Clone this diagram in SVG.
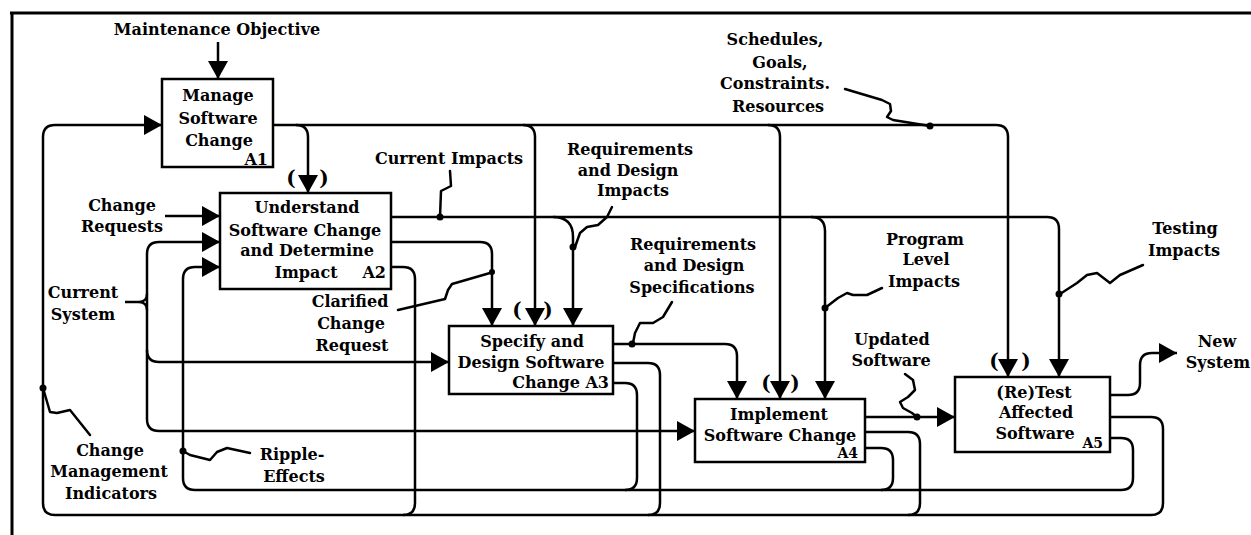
<svg xmlns="http://www.w3.org/2000/svg" width="1251" height="535" viewBox="0 0 1251 535">
<defs>
<marker id="ah" markerUnits="userSpaceOnUse" markerWidth="20" markerHeight="20" refX="18" refY="10" orient="auto">
<path d="M0,0 L18,10 L0,20 Z" fill="#000"/>
</marker>
<style>
text{font-family:"DejaVu Serif","Liberation Serif",serif;font-weight:bold;font-size:16px;fill:#000;text-anchor:middle}
.box{fill:#fff;stroke:#000;stroke-width:2.5}
.ln{fill:none;stroke:#000;stroke-width:2.5;stroke-linejoin:round}
.ar{fill:none;stroke:#000;stroke-width:2.5;marker-end:url(#ah)}
.sq{fill:none;stroke:#000;stroke-width:2.5;stroke-linejoin:round;stroke-linecap:round}
.dot{fill:#000}
.par{font-size:20px}
.end{text-anchor:end}
.sm{font-size:14px}
</style>
</defs>
<rect width="1251" height="535" fill="#fff"/>
<g id="frame" class="ln" style="stroke-width:3">
<path d="M10,13 H1251 M12,13 V535"/>
</g>
<g id="connectors">
<path class="ar" d="M218,42 V79"/>
<path class="ar" d="M273,125 H996 Q1008,125 1008,137 V377"/>
<path class="ar" d="M296,125 Q308,125 308,137 V193"/>
<path class="ar" d="M523,125 Q535,125 535,137 V326"/>
<path class="ar" d="M768,125 Q780,125 780,137 V399"/>
<path class="ar" d="M391,267 H403 Q415,267 415,279 V503 Q415,515 403,515 H55 Q43,515 43,503 V137 Q43,125 55,125 H162"/>
<path class="ln" d="M1110,417 H1151 Q1163,417 1163,429 V503 Q1163,515 1151,515 H403"/>
<path class="ln" d="M613,363 H648 Q660,363 660,375 V503 Q660,515 648,515"/>
<path class="ln" d="M865,432 H908 Q920,432 920,444 V503 Q920,515 908,515"/>
<path class="ar" d="M613,383 H625 Q637,383 637,395 V478 Q637,490 625,490 H195 Q183,490 183,478 V279 Q183,267 195,267 H220"/>
<path class="ln" d="M865,448 H881 Q893,448 893,460 V478 Q893,490 881,490 H625"/>
<path class="ln" d="M1110,438 H1121 Q1133,438 1133,450 V478 Q1133,490 1121,490 H881"/>
<path class="ar" d="M147,300 V254 Q147,242 159,242 H220"/>
<path class="ar" d="M147,300 V419 Q147,431 159,431 H695"/>
<path class="ar" d="M147,350 Q147,362 159,362 H449"/>
<path class="ln" d="M125,302 H139 C144,302 147,299 147,294 M139,302 C144,302 147,305 147,310"/>
<path class="ar" d="M165,216 H220"/>
<path class="ar" d="M391,217 H1047 Q1059,217 1059,229 V377"/>
<path class="ar" d="M553,217 Q573,217 573,237 V326"/>
<path class="ar" d="M811,217 Q825,217 825,231 V399"/>
<path class="ar" d="M391,242 H480 Q492,242 492,254 V326"/>
<path class="ar" d="M613,344 H725 Q737,344 737,356 V399"/>
<path class="ar" d="M865,417 H955"/>
<path class="ar" d="M1110,395 H1128 Q1140,395 1140,383 V365 Q1140,353 1152,353 H1177"/>
<g id="label-leaders">
<polyline class="sq" points="845,89 882,100 890,104 891,111 887,117 893,120 930,126"/>
<polyline class="sq" points="450,171 451,186 441,191 440,217"/>
<polyline class="sq" points="612,207 607,217 598,225 587,227 580,233 575,247"/>
<polyline class="sq" points="398,310 445,299 448,290 452,284 490,273"/>
<polyline class="sq" points="672,302 663,317 653,323 640,323 635,333 633,343"/>
<polyline class="sq" points="882,288 867,295 853,295 847,293 838,298 825,308"/>
<polyline class="sq" points="1143,265 1120,275 1110,283 1097,273 1087,275 1077,283 1060,294"/>
<polyline class="sq" points="905,374 913,380 915,390 908,397 900,402 903,408 912,413 917,417"/>
<polyline class="sq" points="43,388 50,412 57,413 70,410 90,435"/>
<polyline class="sq" points="183,451 190,455 210,460 217,452 227,448 250,453"/>
<circle class="dot" cx="930" cy="126" r="3.5"/>
<circle class="dot" cx="440" cy="217" r="3.5"/>
<circle class="dot" cx="573" cy="247" r="3.5"/>
<circle class="dot" cx="492" cy="272" r="3"/>
<circle class="dot" cx="632" cy="344" r="3.5"/>
<circle class="dot" cx="825" cy="308" r="3.5"/>
<circle class="dot" cx="1059" cy="294" r="3.5"/>
<circle class="dot" cx="917" cy="417" r="3.5"/>
<circle class="dot" cx="43" cy="388" r="3.5"/>
<circle class="dot" cx="183" cy="451" r="3.5"/>
</g>
<g id="tunnels">
<text class="par" x="291" y="185">(</text><text class="par" x="324" y="185">)</text>
<text class="par" x="517" y="317">(</text><text class="par" x="548" y="317">)</text>
<text class="par" x="766" y="390">(</text><text class="par" x="795" y="390">)</text>
<text class="par" x="994" y="368">(</text><text class="par" x="1026" y="368">)</text>
</g>
</g>
<g id="A1">
<rect class="box" x="162" y="79" width="111" height="88"/>
<text x="218" y="101">Manage</text>
<text x="218" y="124">Software</text>
<text x="219" y="146">Change</text>
<text class="end" x="268" y="165">A1</text>
</g>
<g id="A2">
<rect class="box" x="220" y="193" width="171" height="96"/>
<text x="307" y="213">Understand</text>
<text x="305" y="236">Software Change</text>
<text x="307" y="256">and Determine</text>
<text x="306" y="278">Impact</text>
<text class="end" x="386" y="278">A2</text>
</g>
<g id="A3">
<rect class="box" x="449" y="326" width="164" height="68"/>
<text x="532" y="347">Specify and</text>
<text x="531" y="368">Design Software</text>
<text class="end" x="609" y="388">Change  A3</text>
</g>
<g id="A4">
<rect class="box" x="695" y="399" width="170" height="63"/>
<text x="779" y="420">Implement</text>
<text x="780" y="441">Software Change</text>
<text class="end sm" x="858" y="458">A4</text>
</g>
<g id="A5">
<rect class="box" x="955" y="377" width="155" height="75"/>
<text x="1034" y="398">(Re)Test</text>
<text x="1036" y="418">Affected</text>
<text x="1035" y="439">Software</text>
<text class="end sm" x="1103" y="448">A5</text>
</g>
<g id="labels">
<text x="217" y="35">Maintenance Objective</text>
<text x="775" y="45">Schedules,</text>
<text x="780" y="68">Goals,</text>
<text x="775" y="89">Constraints.</text>
<text x="778" y="112">Resources</text>
<text x="449" y="164">Current Impacts</text>
<text x="630" y="155">Requirements</text>
<text x="628" y="176">and Design</text>
<text x="633" y="196">Impacts</text>
<text x="122" y="211">Change</text>
<text x="122" y="232">Requests</text>
<text x="83" y="298">Current</text>
<text x="83" y="320">System</text>
<text x="350" y="307">Clarified</text>
<text x="351" y="329">Change</text>
<text x="352" y="351">Request</text>
<text x="693" y="250">Requirements</text>
<text x="694" y="271">and Design</text>
<text x="692" y="293">Specifications</text>
<text x="925" y="245">Program</text>
<text x="926" y="265">Level</text>
<text x="924" y="287">Impacts</text>
<text x="1185" y="234">Testing</text>
<text x="1184" y="256">Impacts</text>
<text x="892" y="345">Updated</text>
<text x="891" y="366">Software</text>
<text x="1217" y="347">New</text>
<text x="1218" y="368">System</text>
<text x="110" y="456">Change</text>
<text x="109" y="477">Management</text>
<text x="111" y="499">Indicators</text>
<text x="292" y="460">Ripple-</text>
<text x="294" y="482">Effects</text>
</g>
</svg>
